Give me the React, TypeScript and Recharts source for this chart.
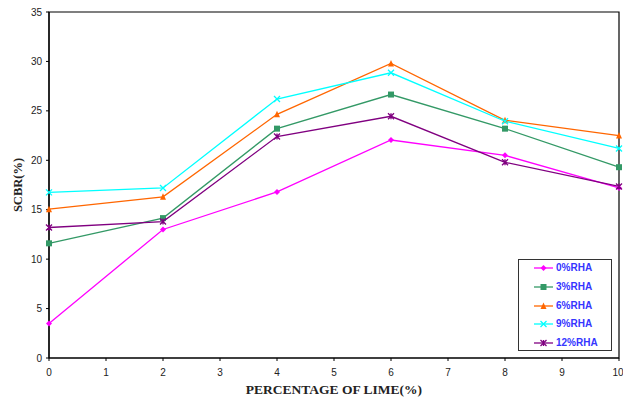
import { Line, LineChart, ReferenceArea, XAxis, YAxis, Label } from 'recharts';

const lime = [0, 2, 4, 6, 8, 10];
const rha0 = [3.5, 13.0, 16.8, 22.05, 20.5, 17.2];
const rha3 = [11.6, 14.15, 23.2, 26.65, 23.2, 19.3];
const rha6 = [15.05, 16.3, 24.65, 29.8, 24.05, 22.5];
const rha9 = [16.75, 17.2, 26.2, 28.85, 23.95, 21.2];
const rha12 = [13.2, 13.8, 22.4, 24.45, 19.8, 17.35];
const xTicks = [0, 1, 2, 3, 4, 5, 6, 7, 8, 9, 10];
const yTicks = [0, 5, 10, 15, 20, 25, 30, 35];

type Shape = 'diamond' | 'square' | 'triangle' | 'x' | 'star';

const series: { key: string; name: string; color: string; shape: Shape; values: number[] }[] = [
	{ key: 'r0', name: '0%RHA', color: '#ff00ff', shape: 'diamond', values: rha0 },
	{ key: 'r3', name: '3%RHA', color: '#339966', shape: 'square', values: rha3 },
	{ key: 'r6', name: '6%RHA', color: '#ff6600', shape: 'triangle', values: rha6 },
	{ key: 'r9', name: '9%RHA', color: '#00ffff', shape: 'x', values: rha9 },
	{ key: 'r12', name: '12%RHA', color: '#800080', shape: 'star', values: rha12 },
];

const data = lime.map((x, i) => {
	const row: Record<string, number> = { x };
	series.forEach(s => {
		row[s.key] = s.values[i];
	});
	return row;
});

const Marker = ({ cx, cy, shape, color }: { cx: number; cy: number; shape: Shape; color: string }) => {
	const r = 3;
	switch (shape) {
		case 'diamond':
			return <polygon points={`${cx},${cy - r} ${cx + r},${cy} ${cx},${cy + r} ${cx - r},${cy}`} fill={color} />;
		case 'square':
			return <rect x={cx - r} y={cy - r} width={r * 2} height={r * 2} fill={color} />;
		case 'triangle':
			return <polygon points={`${cx},${cy - r - 0.5} ${cx + r},${cy + r} ${cx - r},${cy + r}`} fill={color} />;
		case 'x':
			return (
				<path
					d={`M${cx - r},${cy - r}L${cx + r},${cy + r}M${cx - r},${cy + r}L${cx + r},${cy - r}`}
					stroke={color}
					strokeWidth={1.3}
				/>
			);
		default:
			return (
				<path
					d={`M${cx - r},${cy - r}L${cx + r},${cy + r}M${cx - r},${cy + r}L${cx + r},${cy - r}M${cx},${cy - r}L${cx},${cy + r}`}
					stroke={color}
					strokeWidth={1.3}
				/>
			);
	}
};

const tickStyle = { fontFamily: 'Liberation Sans, Arial, sans-serif', fontSize: 10, fill: '#222' };
const titleFont = 'Liberation Serif, Times New Roman, serif';

export default function App() {
	return (
		<div style={{ position: 'relative', width: 623, height: 398 }}>
			<style>{'body{margin:0}'}</style>
			<LineChart width={623} height={398} data={data} margin={{ top: 12, right: 4, bottom: 0, left: 0 }}>
				<ReferenceArea x1={0} x2={10} y1={0} y2={35} fill="none" stroke="#000" strokeWidth={1.2} />
				<XAxis
					dataKey="x"
					type="number"
					domain={[0, 10]}
					ticks={xTicks}
					height={40}
					tickSize={3}
					tickMargin={8}
					tick={tickStyle}
					axisLine={{ stroke: '#000', strokeWidth: 1.2 }}
					tickLine={{ stroke: '#000' }}
				>
					<Label
						value="PERCENTAGE OF LIME(%)"
						position="insideBottom"
						offset={4}
						style={{ fontFamily: titleFont, fontWeight: 'bold', fontSize: 13.5, fill: '#222' }}
					/>
				</XAxis>
				<YAxis
					type="number"
					domain={[0, 35]}
					ticks={yTicks}
					width={49}
					tickSize={3}
					tickMargin={4}
					tick={tickStyle}
					axisLine={{ stroke: '#000', strokeWidth: 1.2 }}
					tickLine={{ stroke: '#000' }}
				>
					<Label
						value="SCBR(%)"
						angle={-90}
						position="insideLeft"
						offset={18}
						textAnchor="middle"
						style={{ fontFamily: titleFont, fontWeight: 'bold', fontSize: 12.5, fill: '#222' }}
					/>
				</YAxis>
				{series.map(s => (
					<Line
						key={s.key}
						dataKey={s.key}
						name={s.name}
						stroke={s.color}
						strokeWidth={1.3}
						type="linear"
						isAnimationActive={false}
						dot={(p: any) => <Marker key={p.key} cx={p.cx} cy={p.cy} shape={s.shape} color={s.color} />}
						activeDot={false}
					/>
				))}
			</LineChart>
			<div
				style={{
					position: 'absolute',
					left: 518,
					top: 259,
					width: 94,
					height: 92,
					border: '1px solid #333',
					background: '#fff',
					boxSizing: 'border-box',
				}}
			>
				{series.map((s, i) => (
					<div
						key={s.key}
						style={{ position: 'absolute', left: 0, top: 2 + i * 18.75, height: 12, display: 'flex', alignItems: 'center' }}
					>
						<svg width={36} height={12} style={{ flex: 'none', display: 'block' }}>
							<line x1={15} y1={6} x2={34} y2={6} stroke={s.color} strokeWidth={1.3} />
							<Marker cx={24.5} cy={6} shape={s.shape} color={s.color} />
						</svg>
						<span
							style={{
								fontFamily: 'Liberation Sans, Arial, sans-serif',
								fontWeight: 'bold',
								fontSize: 10,
								lineHeight: '12px',
								color: '#3535ff',
								marginLeft: 1,
								whiteSpace: 'nowrap',
							}}
						>
							{s.name}
						</span>
					</div>
				))}
			</div>
		</div>
	);
}
